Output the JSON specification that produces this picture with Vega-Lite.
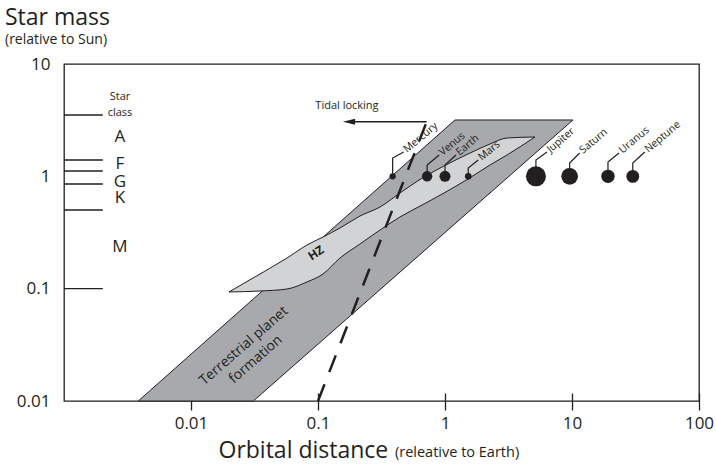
{
  "$schema": "https://vega.github.io/schema/vega-lite/v6.json",
  "width": 635,
  "height": 337,
  "autosize": {"type": "none"},
  "padding": {"left": 64, "top": 64, "right": 17, "bottom": 63},
  "background": "white",
  "config": {
    "view": {"stroke": "#231f20", "strokeWidth": 1.3},
    "font": "Open Sans",
    "text": {"color": "#231f20", "font": "Open Sans"}
  },
  "title": {
    "text": "Star mass",
    "subtitle": "(relative to Sun)",
    "anchor": "start",
    "frame": "group",
    "dx": -59,
    "offset": 8,
    "font": "Open Sans",
    "fontSize": 23,
    "fontWeight": "normal",
    "color": "#231f20",
    "subtitleFont": "Open Sans",
    "subtitleFontSize": 14,
    "subtitleColor": "#231f20",
    "subtitlePadding": 3
  },
  "datasets": {
    "band": [
      {"x": 0.003846, "y": 0.01, "y2": 0.01},
      {"x": 0.03095, "y": 0.01, "y2": 0.081},
      {"x": 1.199, "y": 0.3786, "y2": 3.174},
      {"x": 10.18, "y": 3.174, "y2": 3.174}
    ],
    "hz": [
      {"x": 0.01991, "y": 0.0934, "y2": 0.0934},
      {"x": 0.03494, "y": 0.0953, "y2": 0.1351},
      {"x": 0.057, "y": 0.0993, "y2": 0.1875},
      {"x": 0.0819, "y": 0.1147, "y2": 0.2447},
      {"x": 0.1095, "y": 0.1351, "y2": 0.2884},
      {"x": 0.149, "y": 0.1875, "y2": 0.3467},
      {"x": 0.2142, "y": 0.2497, "y2": 0.4434},
      {"x": 0.3078, "y": 0.3328, "y2": 0.5333},
      {"x": 0.4421, "y": 0.4345, "y2": 0.7105},
      {"x": 0.6834, "y": 0.5672, "y2": 0.9863},
      {"x": 0.982, "y": 0.7105, "y2": 1.236},
      {"x": 1.517, "y": 0.9467, "y2": 1.58},
      {"x": 2.262, "y": 1.262, "y2": 1.94},
      {"x": 3.077, "y": 1.548, "y2": 2.194},
      {"x": 5.113, "y": 2.239, "y2": 2.239}
    ],
    "tidal": [
      {"x": 0.1, "y": 0.01},
      {"x": 0.718, "y": 3.064}
    ],
    "arrow": [
      {"x": 0.718, "y": 3.064},
      {"x": 0.18, "y": 3.064}
    ],
    "arrowhead": [
      {"x": 0.1754, "y": 3.064}
    ],
    "classLines": [
      {"x": 0.001, "x2": 0.00202, "y": 3.516},
      {"x": 0.001, "x2": 0.00202, "y": 1.398},
      {"x": 0.001, "x2": 0.00202, "y": 1.115},
      {"x": 0.001, "x2": 0.00202, "y": 0.8545},
      {"x": 0.001, "x2": 0.00202, "y": 0.5017},
      {"x": 0.001, "x2": 0.00202, "y": 0.1}
    ],
    "classLetters": [
      {"x": 0.00276, "y": 2.239, "label": "A"},
      {"x": 0.00276, "y": 1.288, "label": "F"},
      {"x": 0.00276, "y": 0.89, "label": "G"},
      {"x": 0.00276, "y": 0.6415, "label": "K"},
      {"x": 0.00276, "y": 0.2349, "label": "M"}
    ],
    "starClass": [
      {"x": 0.00276, "y": 5.08, "label": "Star"},
      {"x": 0.00276, "y": 3.66, "label": "class"}
    ],
    "planets": [
      {"name": "Mercury", "x": 0.387, "y": 1},
      {"name": "Venus", "x": 0.723, "y": 1},
      {"name": "Earth", "x": 1, "y": 1},
      {"name": "Mars", "x": 1.524, "y": 1},
      {"name": "Jupiter", "x": 5.2, "y": 1},
      {"name": "Saturn", "x": 9.58, "y": 1},
      {"name": "Uranus", "x": 19.2, "y": 1},
      {"name": "Neptune", "x": 30.1, "y": 1}
    ],
    "leaders": [
      {"name": "Mercury", "step": 1, "x": 0.387, "y": 1},
      {"name": "Mercury", "step": 2, "x": 0.387, "y": 1.456},
      {"name": "Mercury", "step": 3, "x": 0.4725, "y": 1.646},
      {"name": "Venus", "step": 1, "x": 0.723, "y": 1},
      {"name": "Venus", "step": 2, "x": 0.723, "y": 1.262},
      {"name": "Venus", "step": 3, "x": 0.899, "y": 1.548},
      {"name": "Earth", "step": 1, "x": 1, "y": 1},
      {"name": "Earth", "step": 2, "x": 1, "y": 1.262},
      {"name": "Earth", "step": 3, "x": 1.221, "y": 1.548},
      {"name": "Mars", "step": 1, "x": 1.524, "y": 1},
      {"name": "Mars", "step": 2, "x": 1.524, "y": 1.186},
      {"name": "Mars", "step": 3, "x": 1.827, "y": 1.398},
      {"name": "Jupiter", "step": 1, "x": 5.2, "y": 1},
      {"name": "Jupiter", "step": 2, "x": 5.2, "y": 1.398},
      {"name": "Jupiter", "step": 3, "x": 6.35, "y": 1.646},
      {"name": "Saturn", "step": 1, "x": 9.58, "y": 1},
      {"name": "Saturn", "step": 2, "x": 9.58, "y": 1.314},
      {"name": "Saturn", "step": 3, "x": 11.49, "y": 1.613},
      {"name": "Uranus", "step": 1, "x": 19.2, "y": 1},
      {"name": "Uranus", "step": 2, "x": 19.2, "y": 1.341},
      {"name": "Uranus", "step": 3, "x": 23.44, "y": 1.613},
      {"name": "Neptune", "step": 1, "x": 30.1, "y": 1},
      {"name": "Neptune", "step": 2, "x": 30.1, "y": 1.314},
      {"name": "Neptune", "step": 3, "x": 37.4, "y": 1.646}
    ],
    "tidalText": [{"x": 0.169, "y": 4.25, "label": "Tidal locking"}],
    "hzText": [{"x": 0.0964, "y": 0.2077, "label": "HZ"}],
    "tpfText": [{"x": 0.0261, "y": 0.0309, "label": "Terrestrial planet\nformation"}],
    "xSub": [{"x": 0.4035, "y": 0.003172, "label": "(releative to Earth)"}]
  },
  "encoding": {
    "x": {
      "field": "x",
      "type": "quantitative",
      "scale": {"type": "log", "domain": [0.001, 100], "nice": false},
      "axis": {
        "values": [0.01, 0.1, 1, 10, 100],
        "format": "~g",
        "title": "Orbital distance",
        "titleFont": "Open Sans",
        "titleFontSize": 23,
        "titleFontWeight": "normal",
        "titleColor": "#231f20",
        "titleX": 154,
        "titleY": 64,
        "titleAlign": "left",
        "titleBaseline": "alphabetic",
        "domain": false,
        "grid": false,
        "offset": -8,
        "tickSize": 17,
        "tickWidth": 1.3,
        "tickColor": "#231f20",
        "labelFont": "Open Sans",
        "labelFontSize": 17,
        "labelColor": "#231f20",
        "labelPadding": 5,
        "labelFlush": false
      }
    },
    "y": {
      "field": "y",
      "type": "quantitative",
      "scale": {"type": "log", "domain": [0.01, 10], "nice": false},
      "axis": {
        "values": [0.01, 0.1, 1, 10],
        "format": "~g",
        "title": null,
        "domain": false,
        "grid": false,
        "ticks": false,
        "labelFont": "Open Sans",
        "labelFontSize": 17,
        "labelColor": "#231f20",
        "labelPadding": 14,
        "labelFlush": false
      }
    }
  },
  "layer": [
    {
      "data": {"name": "band"},
      "mark": {"type": "area", "fill": "#a7a9ac", "stroke": "#231f20", "strokeWidth": 1, "fillOpacity": 1},
      "encoding": {"y2": {"field": "y2"}}
    },
    {
      "data": {"name": "hz"},
      "mark": {"type": "area", "interpolate": "monotone", "fill": "#d1d3d4", "stroke": "#231f20", "strokeWidth": 1, "fillOpacity": 1},
      "encoding": {"y2": {"field": "y2"}}
    },
    {
      "data": {"name": "tidal"},
      "mark": {"type": "line", "stroke": "#231f20", "strokeWidth": 2.5, "strokeDash": [18, 13]},
      "encoding": {}
    },
    {
      "data": {"name": "arrow"},
      "mark": {"type": "line", "stroke": "#231f20", "strokeWidth": 1.5},
      "encoding": {}
    },
    {
      "data": {"name": "arrowhead"},
      "mark": {"type": "point", "shape": "M-1,0L1,-0.5L1,0.5Z", "size": 150, "filled": true, "fill": "#231f20", "stroke": null, "opacity": 1}
    },
    {
      "data": {"name": "classLines"},
      "mark": {"type": "rule", "stroke": "#231f20", "strokeWidth": 1.3},
      "encoding": {"x2": {"field": "x2"}}
    },
    {
      "data": {"name": "leaders"},
      "mark": {"type": "line", "stroke": "#231f20", "strokeWidth": 1.2},
      "encoding": {"detail": {"field": "name"}, "order": {"field": "step", "type": "quantitative"}}
    },
    {
      "data": {"name": "planets"},
      "mark": {"type": "circle", "fill": "#231f20", "opacity": 1},
      "encoding": {
        "size": {
          "field": "name",
          "type": "nominal",
          "scale": {
            "type": "ordinal",
            "domain": ["Mercury", "Venus", "Earth", "Mars", "Jupiter", "Saturn", "Uranus", "Neptune"],
            "range": [40, 110, 121, 44, 400, 280, 180, 165]
          },
          "legend": null
        }
      }
    },
    {
      "data": {"name": "leaders"},
      "transform": [{"filter": "datum.step == 3"}],
      "mark": {"type": "text", "angle": 320, "align": "left", "baseline": "middle", "dx": 2, "fontSize": 10.5},
      "encoding": {"text": {"field": "name"}}
    },
    {
      "data": {"name": "classLetters"},
      "mark": {"type": "text", "align": "center", "baseline": "middle", "fontSize": 17},
      "encoding": {"text": {"field": "label"}}
    },
    {
      "data": {"name": "starClass"},
      "mark": {"type": "text", "align": "center", "baseline": "middle", "fontSize": 11},
      "encoding": {"text": {"field": "label"}}
    },
    {
      "data": {"name": "tidalText"},
      "mark": {"type": "text", "align": "center", "baseline": "middle", "fontSize": 11},
      "encoding": {"text": {"field": "label"}}
    },
    {
      "data": {"name": "hzText"},
      "mark": {"type": "text", "align": "center", "baseline": "middle", "fontSize": 12, "fontWeight": "bold", "angle": 327},
      "encoding": {"text": {"field": "label"}}
    },
    {
      "data": {"name": "tpfText"},
      "mark": {"type": "text", "align": "center", "baseline": "middle", "fontSize": 14, "angle": 319, "lineBreak": "\n", "lineHeight": 18},
      "encoding": {"text": {"field": "label"}}
    },
    {
      "data": {"name": "xSub"},
      "mark": {"type": "text", "align": "left", "baseline": "alphabetic", "fontSize": 14.5},
      "encoding": {"text": {"field": "label"}}
    }
  ]
}
